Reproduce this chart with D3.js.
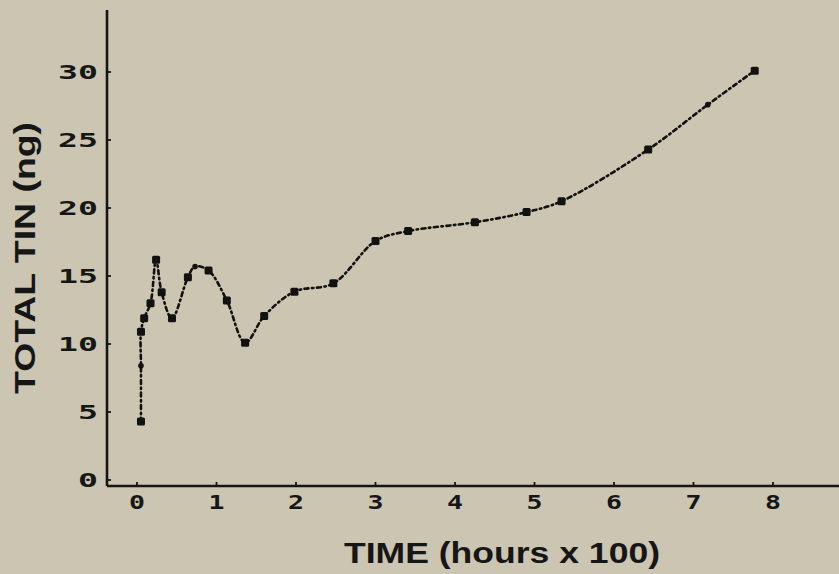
<!DOCTYPE html>
<html>
<head>
<meta charset="utf-8">
<script src="https://d3js.org/d3.v7.min.js"></script>
<style>
  html, body { margin: 0; padding: 0; background: #cbc5b1; }
  svg { display: block; }
  .curve { fill: none; stroke: #111; stroke-width: 2.6; stroke-dasharray: 4 3.5 1.5 3.5; stroke-linecap: round; }
  .tick-label { font-family: "DejaVu Sans Mono", monospace; font-size: 19px; font-weight: bold; fill: #161616; }
  .title { font-family: "Liberation Sans", Arial, sans-serif; font-weight: bold; font-size: 29px; fill: #161616; }
</style>
</head>
<body>
<svg id="canvas" width="839" height="574"></svg>
<script>
  // readings (time in hours x 100, total tin in ng)
  const times = [0.05, 0.05, 0.05, 0.09, 0.17, 0.24, 0.31, 0.44, 0.64, 0.73, 0.9, 1.13, 1.36, 1.6, 1.98, 2.47, 3.0, 3.41, 4.25, 4.9, 5.34, 6.43, 7.18, 7.77];
  const tin   = [4.3, 8.4, 10.9, 11.9, 13.0, 16.2, 13.8, 11.9, 14.9, 15.7, 15.4, 13.2, 10.1, 12.05, 13.85, 14.46, 17.57, 18.3, 18.95, 19.7, 20.5, 24.3, 27.6, 30.1];
  // which readings carry a large marker
  const marked = [1, 0, 1, 1, 1, 1, 1, 1, 1, 0, 1, 1, 1, 1, 1, 1, 1, 1, 1, 1, 1, 1, 0, 1];
  const xTicks = [0, 1, 2, 3, 4, 5, 6, 7, 8];
  const xTickLabels = ["0", "1", "2", "3", "4", "5", "6", "7", "8"];
  const yTicks = [0, 5, 10, 15, 20, 25, 30];
  const yTickLabels = ["0", "5", "10", "15", "20", "25", "30"];

  const svg = d3.select("svg");
  const originX = 107, axisY = 486;

  const x = d3.scaleLinear().domain([0, 8]).range([137, 773]);
  const y = d3.scaleLinear().domain([0, 30]).range([480, 72]);

  // axes
  svg.append("line")
      .attr("x1", originX).attr("y1", 10).attr("x2", originX).attr("y2", axisY)
      .attr("stroke", "#151515").attr("stroke-width", 2.6);
  svg.append("line")
      .attr("x1", originX).attr("y1", axisY).attr("x2", 839).attr("y2", axisY)
      .attr("stroke", "#151515").attr("stroke-width", 2.6);

  const yAxis = svg.append("g");
  yTicks.forEach((t, i) => {
    yAxis.append("line")
        .attr("x1", originX).attr("x2", originX + 4)
        .attr("y1", y(t)).attr("y2", y(t))
        .attr("stroke", "#151515").attr("stroke-width", 1.8);
    const lab = yTickLabels[i];
    yAxis.append("text")
        .attr("class", "tick-label")
        .attr("x", 98).attr("y", y(t)).attr("dy", "0.36em")
        .attr("text-anchor", "end")
        .attr("textLength", lab.length * 20)
        .attr("lengthAdjust", "spacingAndGlyphs")
        .text(lab);
  });

  const xAxis = svg.append("g");
  xTicks.forEach((t, i) => {
    xAxis.append("line")
        .attr("x1", x(t)).attr("x2", x(t))
        .attr("y1", axisY).attr("y2", axisY - 4)
        .attr("stroke", "#151515").attr("stroke-width", 1.8);
    xAxis.append("text")
        .attr("class", "tick-label")
        .attr("x", x(t)).attr("y", 502).attr("dy", "0.36em")
        .attr("text-anchor", "middle")
        .attr("textLength", 16)
        .attr("lengthAdjust", "spacingAndGlyphs")
        .text(xTickLabels[i]);
  });

  // titles
  svg.append("text")
      .attr("class", "title")
      .attr("x", 502).attr("y", 553).attr("dy", "0.35em")
      .attr("text-anchor", "middle")
      .attr("textLength", 316)
      .attr("lengthAdjust", "spacingAndGlyphs")
      .text("TIME (hours x 100)");
  svg.append("text")
      .attr("class", "title")
      .attr("transform", "translate(25,258) rotate(-90)")
      .attr("dy", "0.35em")
      .attr("text-anchor", "middle")
      .attr("textLength", 272)
      .attr("lengthAdjust", "spacingAndGlyphs")
      .text("TOTAL TIN (ng)");

  // curve
  const pts = times.map((t, i) => [t, tin[i]]);
  const line = d3.line()
      .x(d => x(d[0]))
      .y(d => y(d[1]))
      .curve(d3.curveCatmullRom.alpha(0.5));
  svg.append("path").attr("class", "curve").attr("d", line(pts));

  // markers
  svg.selectAll("rect.marker")
    .data(pts.filter((d, i) => marked[i]))
    .join("rect")
      .attr("class", "marker")
      .attr("x", d => x(d[0]) - 4)
      .attr("y", d => y(d[1]) - 4)
      .attr("width", 8).attr("height", 8)
      .attr("rx", 1.5)
      .attr("fill", "#111");
  svg.selectAll("circle.minor")
    .data(pts.filter((d, i) => !marked[i]))
    .join("circle")
      .attr("class", "minor")
      .attr("cx", d => x(d[0]))
      .attr("cy", d => y(d[1]))
      .attr("r", 2.8)
      .attr("fill", "#111");
</script>
</body>
</html>
